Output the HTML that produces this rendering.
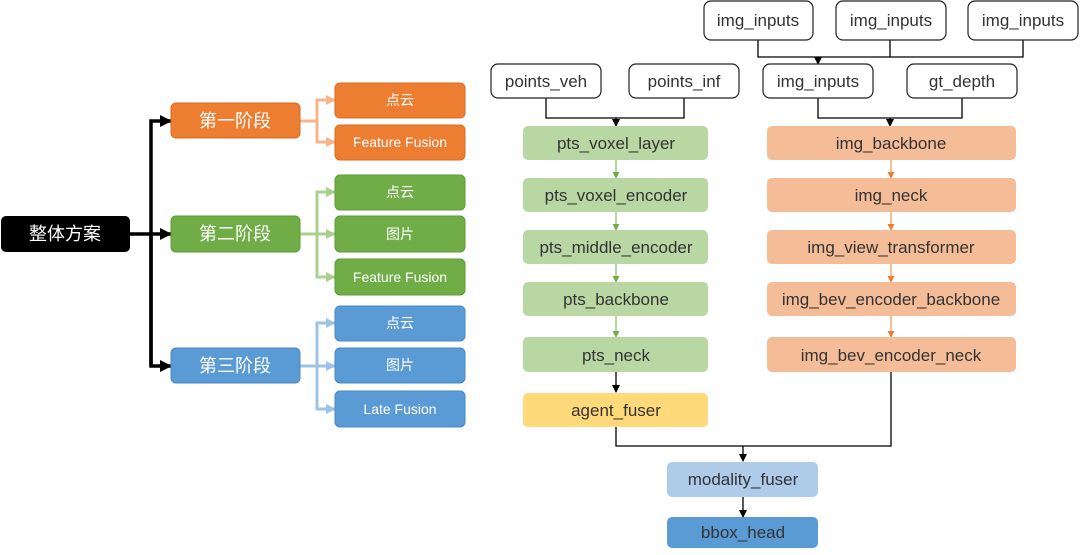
<!DOCTYPE html>
<html><head><meta charset="utf-8"><style>
body{margin:0;background:#fff;width:1080px;height:550px;overflow:hidden}
svg text{font-family:"Liberation Sans","Noto Sans CJK SC",sans-serif}
</style></head><body>
<svg width="1080" height="550" viewBox="0 0 1080 550" xmlns="http://www.w3.org/2000/svg">
<defs>
<marker id="ab" markerWidth="8" markerHeight="8" refX="7" refY="4" orient="auto" markerUnits="userSpaceOnUse"><path d="M0,0L8,4L0,8z" fill="#000"/></marker>
<marker id="ab2" markerWidth="12" markerHeight="12" refX="11" refY="6" orient="auto" markerUnits="userSpaceOnUse"><path d="M0,0L12,6L0,12z" fill="#000"/></marker>
<marker id="ao" markerWidth="10" markerHeight="10" refX="9" refY="5" orient="auto" markerUnits="userSpaceOnUse"><path d="M0,0L10,5L0,10z" fill="#f8b48a"/></marker>
<marker id="ag" markerWidth="10" markerHeight="10" refX="9" refY="5" orient="auto" markerUnits="userSpaceOnUse"><path d="M0,0L10,5L0,10z" fill="#a9d18e"/></marker>
<marker id="abl" markerWidth="10" markerHeight="10" refX="9" refY="5" orient="auto" markerUnits="userSpaceOnUse"><path d="M0,0L10,5L0,10z" fill="#9dc3e6"/></marker>
<marker id="sg" markerWidth="7" markerHeight="7" refX="6" refY="3.5" orient="auto" markerUnits="userSpaceOnUse"><path d="M0,0L7,3.5L0,7z" fill="#70ad47"/></marker>
<marker id="so" markerWidth="7" markerHeight="7" refX="6" refY="3.5" orient="auto" markerUnits="userSpaceOnUse"><path d="M0,0L7,3.5L0,7z" fill="#ed7d31"/></marker>
</defs>
<g fill="none" stroke="#000" stroke-width="3.5">
<path d="M130,234H171" marker-end="url(#ab2)"/>
<path d="M151,366V121H171" marker-end="url(#ab2)"/>
<path d="M151,234V366H171" marker-end="url(#ab2)"/>
</g>
<g fill="none" stroke="#f8b48a" stroke-width="3">
<path d="M300,121H317V100H335" marker-end="url(#ao)"/><path d="M317,121V142H335" marker-end="url(#ao)"/>
</g>
<g fill="none" stroke="#a9d18e" stroke-width="3">
<path d="M300,234H335" marker-end="url(#ag)"/><path d="M317,234V192H335" marker-end="url(#ag)"/><path d="M317,234V277H335" marker-end="url(#ag)"/>
</g>
<g fill="none" stroke="#9dc3e6" stroke-width="3">
<path d="M300,366H335" marker-end="url(#abl)"/><path d="M317,366V323H335" marker-end="url(#abl)"/><path d="M317,366V409H335" marker-end="url(#abl)"/>
</g>
<g font-size="16" fill="#fff" text-anchor="middle">
<rect x="1" y="216" width="129" height="36" rx="5" fill="#000"/><text x="65" y="240" font-size="18">整体方案</text>
<rect x="171" y="103" width="129" height="35" rx="5" fill="#ed7d31" stroke="#d86a20"/><text x="235" y="127" font-size="18">第一阶段</text>
<rect x="171" y="216" width="129" height="36" rx="5" fill="#70ad47" stroke="#5e9a38"/><text x="235" y="240" font-size="18">第二阶段</text>
<rect x="171" y="348" width="129" height="35" rx="5" fill="#5b9bd5" stroke="#4a88c2"/><text x="235" y="372" font-size="18">第三阶段</text>
<g font-size="14">
<rect x="335" y="83" width="130" height="35" rx="5" fill="#ed7d31" stroke="#d86a20"/><text x="400" y="105">点云</text>
<rect x="335" y="125" width="130" height="35" rx="5" fill="#ed7d31" stroke="#d86a20"/><text x="400" y="147">Feature Fusion</text>
<rect x="335" y="175" width="130" height="35" rx="5" fill="#70ad47" stroke="#5e9a38"/><text x="400" y="197">点云</text>
<rect x="335" y="216" width="130" height="36" rx="5" fill="#70ad47" stroke="#5e9a38"/><text x="400" y="239">图片</text>
<rect x="335" y="259" width="130" height="36" rx="5" fill="#70ad47" stroke="#5e9a38"/><text x="400" y="282">Feature Fusion</text>
<rect x="335" y="306" width="130" height="35" rx="5" fill="#5b9bd5" stroke="#4a88c2"/><text x="400" y="328">点云</text>
<rect x="335" y="348" width="130" height="35" rx="5" fill="#5b9bd5" stroke="#4a88c2"/><text x="400" y="370">图片</text>
<rect x="335" y="391" width="130" height="36" rx="5" fill="#5b9bd5" stroke="#4a88c2"/><text x="400" y="414">Late Fusion</text>
</g></g>
<g fill="none" stroke="#000" stroke-width="1.3">
<path d="M758,40V57H1023V40M890,40V57"/><path d="M818,57V64" marker-end="url(#ab)"/>
<path d="M546,98V118H684V98"/><path d="M616,118V126" marker-end="url(#ab)"/>
<path d="M818,98V118H962V98"/><path d="M890,118V126" marker-end="url(#ab)"/>
<path d="M616,371V392" marker-end="url(#ab)"/>
<path d="M616,426V446H891V371M743,446V461" marker-end="url(#ab)"/>
<path d="M743,497V517" marker-end="url(#ab)"/>
</g>
<g fill="none" stroke="#70ad47" stroke-width="1">
<path d="M616,160V178" marker-end="url(#sg)"/><path d="M616,212V230" marker-end="url(#sg)"/><path d="M616,264V282" marker-end="url(#sg)"/><path d="M616,316V337" marker-end="url(#sg)"/>
</g>
<g fill="none" stroke="#ed7d31" stroke-width="1">
<path d="M891,160V178" marker-end="url(#so)"/><path d="M891,212V230" marker-end="url(#so)"/><path d="M891,264V282" marker-end="url(#so)"/><path d="M891,316V337" marker-end="url(#so)"/>
</g>
<g font-size="17" fill="#333" text-anchor="middle">
<g fill="#fff" stroke="#222" stroke-width="1.2">
<rect x="704" y="1" width="109" height="39" rx="7"/><rect x="836" y="1" width="110" height="39" rx="7"/><rect x="968" y="1" width="110" height="39" rx="7"/>
<rect x="491" y="64" width="110" height="34" rx="7"/><rect x="629" y="64" width="110" height="34" rx="7"/><rect x="763" y="64" width="110" height="34" rx="7"/><rect x="907" y="64" width="110" height="34" rx="7"/>
</g>
<text x="758" y="26">img_inputs</text><text x="891" y="26">img_inputs</text><text x="1023" y="26">img_inputs</text>
<text x="546" y="87">points_veh</text><text x="684" y="87">points_inf</text><text x="818" y="87">img_inputs</text><text x="962" y="87">gt_depth</text>
<g fill="#b8d7a3"><rect x="523" y="126" width="185" height="34" rx="5"/><rect x="523" y="178" width="185" height="34" rx="5"/><rect x="523" y="230" width="185" height="34" rx="5"/><rect x="523" y="282" width="185" height="34" rx="5"/><rect x="523" y="337" width="185" height="35" rx="5"/></g>
<rect x="523" y="393" width="185" height="34" rx="5" fill="#ffd97a"/>
<g fill="#f5bc98"><rect x="767" y="126" width="249" height="34" rx="5"/><rect x="767" y="178" width="249" height="34" rx="5"/><rect x="767" y="230" width="249" height="34" rx="5"/><rect x="767" y="282" width="249" height="34" rx="5"/><rect x="767" y="337" width="249" height="35" rx="5"/></g>
<rect x="667" y="462" width="151" height="35" rx="5" fill="#aecbea"/>
<rect x="667" y="517" width="151" height="31" rx="5" fill="#5b9bd5"/>
<text x="616" y="149">pts_voxel_layer</text><text x="616" y="201">pts_voxel_encoder</text><text x="616" y="253">pts_middle_encoder</text><text x="616" y="305">pts_backbone</text><text x="616" y="361">pts_neck</text><text x="616" y="416">agent_fuser</text>
<text x="891" y="149">img_backbone</text><text x="891" y="201">img_neck</text><text x="891" y="253">img_view_transformer</text><text x="891" y="305">img_bev_encoder_backbone</text><text x="891" y="361">img_bev_encoder_neck</text>
<text x="743" y="485">modality_fuser</text><text x="743" y="538">bbox_head</text>
</g>
</svg>
</body></html>
